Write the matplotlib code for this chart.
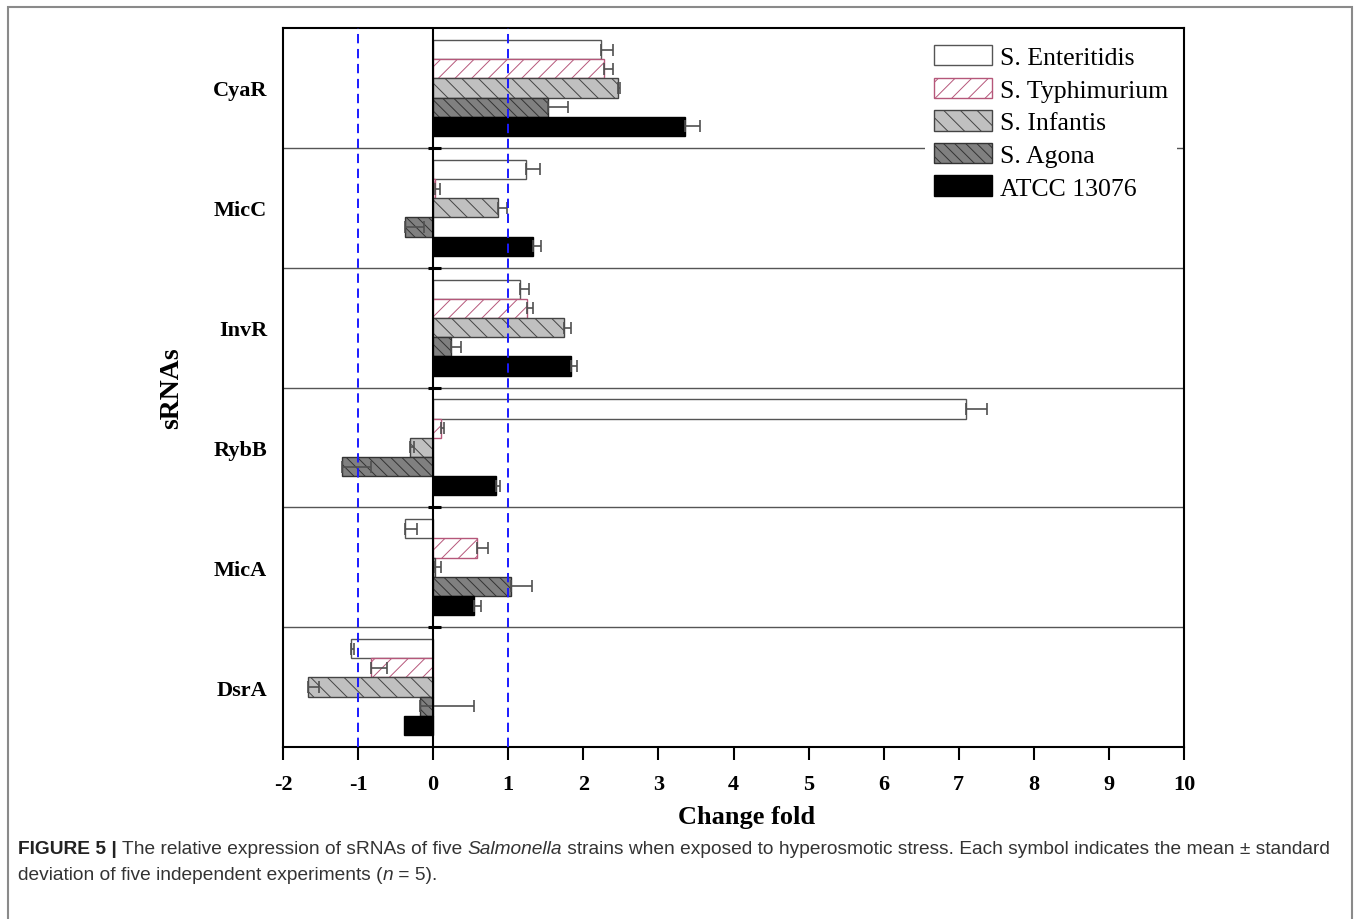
import numpy as np
import matplotlib
matplotlib.use("Agg")
import matplotlib.pyplot as plt
from matplotlib.patches import Rectangle

# ── Data: relative expression (change fold) of sRNAs, mean and SD ──
srnas = ["CyaR", "MicC", "InvR", "RybB", "MicA", "DsrA"]
strains = ["S. Enteritidis", "S. Typhimurium", "S. Infantis", "S. Agona", "ATCC 13076"]

enteritidis    = [2.24, 1.24, 1.16, 7.10, -0.37, -1.09]
enteritidis_sd = [0.16, 0.18, 0.11, 0.28, 0.15, 0.04]
typhimurium    = [2.27, 0.03, 1.25, 0.10, 0.59, -0.83]
typhimurium_sd = [0.13, 0.06, 0.08, 0.05, 0.14, 0.21]
infantis       = [2.46, 0.86, 1.74, -0.31, 0.03, -1.67]
infantis_sd    = [0.03, 0.12, 0.09, 0.06, 0.08, 0.15]
agona          = [1.53, -0.38, 0.24, -1.22, 1.04, -0.17]
agona_sd       = [0.26, 0.26, 0.13, 0.39, 0.27, 0.72]
atcc           = [3.36, 1.33, 1.83, 0.84, 0.55, -0.39]
atcc_sd        = [0.20, 0.11, 0.09, 0.05, 0.09, 0.00]

x_ticks = list(range(-2, 11))

# ── Styles ──
SERIF = "Liberation Serif"
SANS = "Liberation Sans"
styles = [
    # face, edge, hatch
    ("white",   "#555555", None),
    ("white",   "#b5577a", "//"),
    ("#c0c0c0", "#444444", "\\\\"),
    ("#808080", "#333333", "\\\\\\"),
    ("black",   "black",   None),
]
plt.rcParams["hatch.linewidth"] = 0.7

W, H = 1357, 920
fig = plt.figure(figsize=(W / 100, H / 100), dpi=100, facecolor="white")
ax = fig.add_axes([283 / W, 1 - 748 / H, (1184 - 283) / W, (748 - 29) / H])

series = [
    (enteritidis, enteritidis_sd),
    (typhimurium, typhimurium_sd),
    (infantis, infantis_sd),
    (agona, agona_sd),
    (atcc, atcc_sd),
]

ypos = np.arange(len(srnas))
bar_h = 0.16
offsets = (np.arange(len(strains)) - 2) * bar_h

for (vals, sd), (face, edge, hatch), off, name in zip(series, styles, offsets, strains):
    vals = np.array(vals)
    sd = np.array(sd)
    ax.barh(ypos + off, vals, height=bar_h, color=face, edgecolor=edge,
            hatch=hatch, lw=1.0, label=name, zorder=3)
    # one-sided (positive) error bars, skipped where SD is zero
    m = sd > 0
    ax.errorbar(vals[m], (ypos + off)[m], xerr=[np.zeros(m.sum()), sd[m]],
                fmt="none", ecolor="#505050", elinewidth=1.2, capsize=4.5,
                capthick=1.2, zorder=4)

# group separators and the little zero-axis ticks on them
for g in range(len(srnas) - 1):
    ax.axhline(g + 0.5, color="#555555", lw=1.0, zorder=1)
    ax.plot([-0.07, 0.11], [g + 0.5, g + 0.5], color="black", lw=2.2, zorder=5,
            solid_capstyle="butt")

ax.axvline(0, color="black", lw=1.5, zorder=5)
for xv in (-1, 1):
    ax.axvline(xv, color="#1a1aff", lw=1.4, ls=(0, (4.8, 2.9)), zorder=6)

ax.set_xlim(-2, 10)
ax.set_ylim(len(srnas) - 0.5, -0.5)
ax.set_xticks(x_ticks)
ax.set_xticklabels([str(t) for t in x_ticks], fontfamily=SERIF,
                   fontweight="bold", fontsize=16)
ax.set_yticks(ypos)
ax.set_yticklabels(srnas, fontfamily=SERIF, fontweight="bold", fontsize=16)
ax.tick_params(axis="x", direction="out", length=9, width=1.5, pad=10.5)
ax.tick_params(axis="y", length=0, pad=11.5)
for sp in ax.spines.values():
    sp.set_linewidth(1.5)
    sp.set_color("black")

fig.text(747 / W, 1 - 818 / H, "Change fold", fontfamily=SERIF,
         fontweight="bold", fontsize=19, ha="center", va="center")
fig.text(172 / W, 1 - 388 / H, "sRNAs", fontfamily=SERIF, fontweight="bold",
         fontsize=20, ha="center", va="center", rotation=90)

leg = ax.legend(loc="upper left", bbox_to_anchor=(925 / W, 1 - 37 / H),
                bbox_transform=fig.transFigure, borderaxespad=0,
                prop=dict(family=SERIF, size=18.5), frameon=True,
                facecolor="white", edgecolor="none", framealpha=1.0,
                fancybox=False, handlelength=2.25, handleheight=0.85,
                labelspacing=0.33, handletextpad=0.3, borderpad=0.35)
leg.set_zorder(7)

# ── Outer frame and caption ──
fig.patches.append(Rectangle((8 / W, -0.05), (1352 - 8) / W, 1.05 - 8 / H,
                             transform=fig.transFigure, fill=False,
                             edgecolor="#8a8a8a", lw=1.5))

caption_lines = [
    [("FIGURE 5 |", "bold"), (" The relative expression of sRNAs of five ", "normal"),
     ("Salmonella", "italic"),
     (" strains when exposed to hyperosmotic stress. Each symbol indicates the mean \u00b1 standard", "normal")],
    [("deviation of five independent experiments (", "normal"), ("n", "italic"),
     (" = 5).", "normal")],
]
caption_y = [1 - 850 / H, 1 - 876 / H]

renderer = fig.canvas.get_renderer()
for runs, yy in zip(caption_lines, caption_y):
    x = 18 / W
    for txt, style in runs:
        kw = dict(fontfamily=SANS, fontsize=13.8, color="#333333", va="center")
        if style == "bold":
            kw["fontweight"] = "bold"
            kw["color"] = "#222222"
        elif style == "italic":
            kw["fontstyle"] = "italic"
        t = fig.text(x, yy, txt, **kw)
        x += t.get_window_extent(renderer).width / fig.bbox.width

fig.savefig("out.png", dpi=100, facecolor="white")
